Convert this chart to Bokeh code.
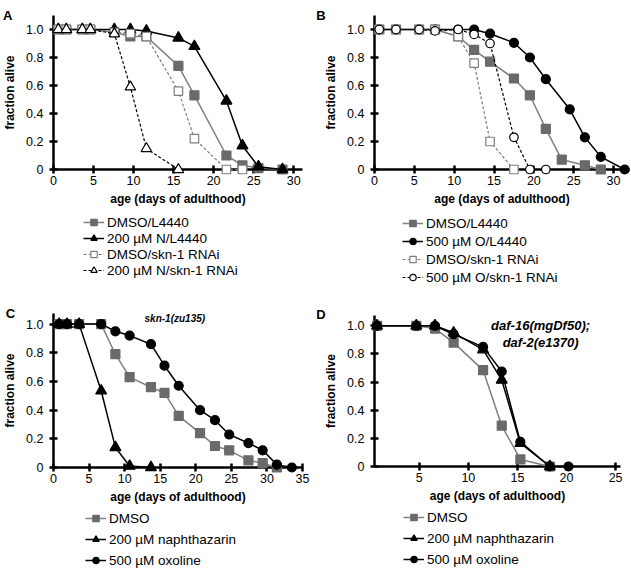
from bokeh.plotting import figure
from bokeh.models import Range1d, FixedTicker, Legend, LegendItem
from bokeh.core.properties import value
from bokeh.layouts import column, row
from bokeh.embed import file_html
from bokeh.resources import INLINE

FONT = "Liberation Sans"

# ---------------- data ----------------
# Panel A
a_dmso_x = [0.6, 1.6, 3.6, 4.6, 7.6, 9.6, 11.6, 15.6, 17.6, 21.6, 23.6, 25.6, 28.6]
a_dmso_y = [1.0, 1.0, 1.0, 1.0, 0.98, 0.95, 0.95, 0.74, 0.53, 0.10, 0.03, 0.01, 0.0]
a_n_x = [0.6, 1.6, 3.6, 4.6, 7.6, 9.6, 11.6, 15.6, 17.6, 21.6, 23.6, 25.6, 28.6]
a_n_y = [1.0, 1.0, 1.0, 1.0, 1.0, 1.0, 0.99, 0.94, 0.88, 0.49, 0.17, 0.02, 0.0]
a_dmso_rnai_x = [0.6, 1.6, 3.6, 4.6, 7.6, 9.6, 11.6, 15.6, 17.6, 21.6, 23.6]
a_dmso_rnai_y = [1.0, 1.0, 1.0, 1.0, 0.98, 0.97, 0.95, 0.56, 0.22, 0.0, 0.0]
a_n_rnai_x = [0.6, 1.6, 3.6, 4.6, 7.6, 9.6, 11.6, 15.6]
a_n_rnai_y = [1.0, 1.0, 1.0, 1.0, 0.97, 0.59, 0.15, 0.0]
a_labels = ["DMSO/L4440", "200 \u00b5M N/L4440", "DMSO/skn-1 RNAi", "200 \u00b5M N/skn-1 RNAi"]
a_xticks = [0, 5, 10, 15, 20, 25, 30]

# Panel B
b_dmso_x = [0.6, 2.7, 5.6, 7.6, 10.5, 12.5, 14.5, 17.5, 19.5, 21.5, 23.5, 26.4, 28.4]
b_dmso_y = [1.0, 1.0, 1.0, 1.0, 0.95, 0.855, 0.77, 0.65, 0.53, 0.29, 0.07, 0.03, 0.0]
b_o_x = [0.6, 2.7, 5.6, 7.6, 10.5, 12.5, 14.5, 17.5, 19.5, 21.5, 24.5, 26.4, 28.4, 31.4]
b_o_y = [1.0, 1.0, 1.0, 1.0, 1.0, 1.0, 0.97, 0.905, 0.80, 0.645, 0.43, 0.23, 0.09, 0.0]
b_dmso_rnai_x = [0.6, 2.7, 5.6, 7.6, 10.5, 12.5, 14.5, 17.5]
b_dmso_rnai_y = [1.0, 1.0, 1.0, 1.0, 0.95, 0.76, 0.20, 0.0]
b_o_rnai_x = [0.6, 2.7, 5.6, 7.6, 10.5, 12.5, 14.5, 17.5, 19.5, 21.5]
b_o_rnai_y = [1.0, 1.0, 1.0, 0.99, 1.0, 0.965, 0.90, 0.23, 0.0, 0.0]
b_labels = ["DMSO/L4440", "500 \u00b5M O/L4440", "DMSO/skn-1 RNAi", "500 \u00b5M O/skn-1 RNAi"]
b_xticks = [0, 5, 10, 15, 20, 25, 30]

# Panel C  skn-1(zu135)
c_dmso_x = [0.8, 1.9, 3.6, 6.7, 8.7, 10.7, 13.7, 15.6, 17.6, 20.6, 22.7, 24.7, 27.4, 29.4, 31.4]
c_dmso_y = [1.0, 1.0, 1.0, 1.0, 0.79, 0.63, 0.56, 0.52, 0.36, 0.24, 0.15, 0.12, 0.05, 0.03, 0.0]
c_naph_x = [0.8, 1.9, 3.6, 6.7, 8.7, 10.7, 13.7]
c_naph_y = [1.0, 1.0, 1.0, 0.535, 0.14, 0.01, 0.0]
c_oxo_x = [0.8, 1.9, 3.6, 6.7, 8.7, 10.7, 13.7, 15.6, 17.6, 20.6, 22.7, 24.7, 27.4, 29.4, 31.4, 33.5]
c_oxo_y = [1.0, 1.0, 1.0, 1.0, 0.95, 0.92, 0.86, 0.71, 0.57, 0.40, 0.33, 0.23, 0.17, 0.12, 0.02, 0.0]
c_xticks = [0, 5, 10, 15, 20, 25, 30, 35]
c_subtitle = ["skn-1(zu135)"]

# Panel D  daf-16(mgDf50); daf-2(e1370)
d_dmso_x = [0.7, 4.7, 6.6, 8.5, 11.5, 13.4, 15.3, 18.3]
d_dmso_y = [1.0, 1.0, 0.98, 0.88, 0.685, 0.29, 0.05, 0.0]
d_naph_x = [0.7, 4.7, 6.6, 8.5, 11.5, 13.4, 15.3, 18.3]
d_naph_y = [1.0, 1.0, 1.0, 0.95, 0.83, 0.615, 0.165, 0.0]
d_oxo_x = [0.7, 4.7, 6.6, 8.5, 11.5, 13.4, 15.3, 18.3, 20.2]
d_oxo_y = [1.0, 1.0, 1.0, 0.94, 0.85, 0.675, 0.175, 0.0, 0.0]
d_xticks = [5, 10, 15, 20, 25]
d_subtitle = ["daf-16(mgDf50);", "daf-2(e1370)"]

cd_labels = ["DMSO", "200 \u00b5M naphthazarin", "500 \u00b5M oxoline"]
y_ticks = [0, 0.2, 0.4, 0.6, 0.8, 1.0]
y_tick_labels = {0: "0", 0.2: "0.2", 0.4: "0.4", 0.6: "0.6", 0.8: "0.8", 1: "1.0"}

GRAY_FILL = "#6a6a6a"
GRAY_LINE = "#7f7f7f"

STYLES = {
    "gray_sq": dict(marker="square", size=9, fill_color=GRAY_FILL, line_color=GRAY_FILL,
                    lc=GRAY_LINE, dash="solid", lw=1.5),
    "blk_tri": dict(marker="triangle", size=11, fill_color="black", line_color="black",
                    lc="black", dash="solid", lw=1.5),
    "blk_circ": dict(marker="circle", size=9, fill_color="black", line_color="black",
                     lc="black", dash="solid", lw=1.5),
    "open_sq": dict(marker="square", size=8.5, fill_color="white", line_color=GRAY_LINE,
                    lc=GRAY_LINE, dash="3 2", lw=1.2),
    "open_tri": dict(marker="triangle", size=10.5, fill_color="white", line_color="black",
                     lc="black", dash="3 2", lw=1.2),
    "open_circ": dict(marker="circle", size=8.5, fill_color="white", line_color="black",
                      lc="black", dash="3 2", lw=1.2),
}


def draw_series(p, xs, ys, key, level):
    st = STYLES[key]
    ln = p.line(xs, ys, line_color=st["lc"], line_width=st["lw"], line_dash=st["dash"],
                level=level)
    sc = p.scatter(xs, ys, marker=st["marker"], size=st["size"],
                   fill_color=st["fill_color"], line_color=st["line_color"], line_width=1.2,
                   level=level)
    return ln, sc


def make_panel(width, height, left, top, fw, fh, xr, ytop, xticks, series, letter, letter_x,
               letter_y):
    p = figure(width=width, height=height, output_backend="svg", toolbar_location=None,
               x_range=Range1d(*xr), y_range=Range1d(0, ytop),
               min_border_left=left, min_border_top=top,
               min_border_right=width - left - fw, min_border_bottom=height - top - fh)
    p.outline_line_color = None
    p.xgrid.visible = False
    p.ygrid.visible = False
    p.background_fill_color = "white"
    p.border_fill_color = "white"

    for ax in (p.xaxis[0], p.yaxis[0]):
        ax.axis_line_width = 2.5
        ax.axis_line_color = "black"
        ax.major_tick_line_width = 2.5
        ax.major_tick_line_color = "black"
        ax.major_tick_in = 4
        ax.major_tick_out = 4
        ax.minor_tick_line_color = None
        ax.major_label_text_font = FONT
        ax.major_label_text_font_size = "12.5px"
        ax.major_label_text_color = "black"
        ax.axis_label_text_font = FONT
        ax.axis_label_text_font_size = "12px"
        ax.axis_label_text_font_style = "bold"
        ax.axis_label_text_color = "black"
    p.xaxis.ticker = FixedTicker(ticks=xticks)
    p.yaxis.ticker = FixedTicker(ticks=y_ticks)
    p.yaxis.major_label_overrides = y_tick_labels
    p.xaxis.major_label_standoff = 2
    p.yaxis.major_label_standoff = 6
    p.xaxis.axis_label = "age (days of adulthood)"
    p.yaxis.axis_label = "fraction alive"
    p.xaxis.axis_label_standoff = 4
    p.yaxis.axis_label_standoff = 6

    for xs, ys, key in series:
        draw_series(p, xs, ys, key, "overlay")

    p.text(x=[letter_x], y=[letter_y], text=[letter], text_font=value(FONT),
           text_font_size="13px", text_font_style="bold", text_baseline="alphabetic",
           text_color="black", level="overlay")
    return p


def make_legend(width, height, series, labels, leg_x, leg_y, spacing):
    # legend-only figure: the data lie far outside its ranges, only the legend shows
    q = figure(width=width, height=height, output_backend="svg", toolbar_location=None,
               x_range=Range1d(1000, 1001), y_range=Range1d(1000, 1001),
               x_axis_location=None, y_axis_location=None,
               min_border_left=0, min_border_right=0, min_border_top=0, min_border_bottom=0)
    q.outline_line_color = None
    q.xgrid.visible = False
    q.ygrid.visible = False
    items = []
    for (xs, ys, key), lab in zip(series, labels):
        ln, sc = draw_series(q, xs, ys, key, "glyph")
        items.append(LegendItem(label=lab, renderers=[ln, sc]))
    leg = Legend(items=items, location=(leg_x, leg_y), orientation="vertical",
                 padding=0, margin=0, spacing=spacing, glyph_width=21, glyph_height=16,
                 label_height=16, label_standoff=3, label_text_font=FONT,
                 label_text_font_size="13.5px", label_text_color="black",
                 label_text_baseline="middle",
                 background_fill_alpha=0, border_line_alpha=0)
    q.add_layout(leg, "center")
    return q


a_series = [(a_dmso_x, a_dmso_y, "gray_sq"), (a_n_x, a_n_y, "blk_tri"),
            (a_dmso_rnai_x, a_dmso_rnai_y, "open_sq"), (a_n_rnai_x, a_n_rnai_y, "open_tri")]
b_series = [(b_dmso_x, b_dmso_y, "gray_sq"), (b_o_x, b_o_y, "blk_circ"),
            (b_dmso_rnai_x, b_dmso_rnai_y, "open_sq"), (b_o_rnai_x, b_o_rnai_y, "open_circ")]
c_series = [(c_dmso_x, c_dmso_y, "gray_sq"), (c_naph_x, c_naph_y, "blk_tri"),
            (c_oxo_x, c_oxo_y, "blk_circ")]
d_series = [(d_dmso_x, d_dmso_y, "gray_sq"), (d_naph_x, d_naph_y, "blk_tri"),
            (d_oxo_x, d_oxo_y, "blk_circ")]

pa = make_panel(315, 211, 53, 15, 249, 154, (0, 31.1), 1.1, a_xticks, a_series, "A", -6.3, 1.1)
la = make_legend(315, 89, a_series, a_labels, 30, 22, 0)

pb = make_panel(316, 211, 59, 15, 255, 154, (0, 32.0), 1.1, b_xticks, b_series, "B", -7.3, 1.1)
lb = make_legend(316, 89, b_series, b_labels, 28, 15, 2)

pc = make_panel(315, 209, 51, 13, 251, 154, (0, 35), 1.074, c_xticks, c_series, "C", -6.7, 1.074)
pc.text(x=[17.05], y=[1.037], text=c_subtitle, text_font=value(FONT), text_font_size="10px",
        text_font_style="bold italic", text_align="center", text_baseline="middle",
        text_color="black", level="overlay")
lc = make_legend(315, 62, c_series, cd_labels, 32, 3, 5)

pd_ = make_panel(316, 208, 59, 15, 246, 151, (0.44, 25.5), 1.073, d_xticks, d_series,
                 "D", -5.5, 1.08)
pd_.text(x=[17.36, 17.36], y=[1.0, 0.881], text=d_subtitle, text_font=value(FONT),
         text_font_size="13px", text_font_style="bold italic", text_align="center",
         text_baseline="middle", text_color="black", level="overlay")
ld = make_legend(316, 63, d_series, cd_labels, 29, 4, 5)

layout = column(row(column(pa, la), column(pb, lb)), row(column(pc, lc), column(pd_, ld)))
open("out.html", "w").write(file_html(layout, INLINE))
